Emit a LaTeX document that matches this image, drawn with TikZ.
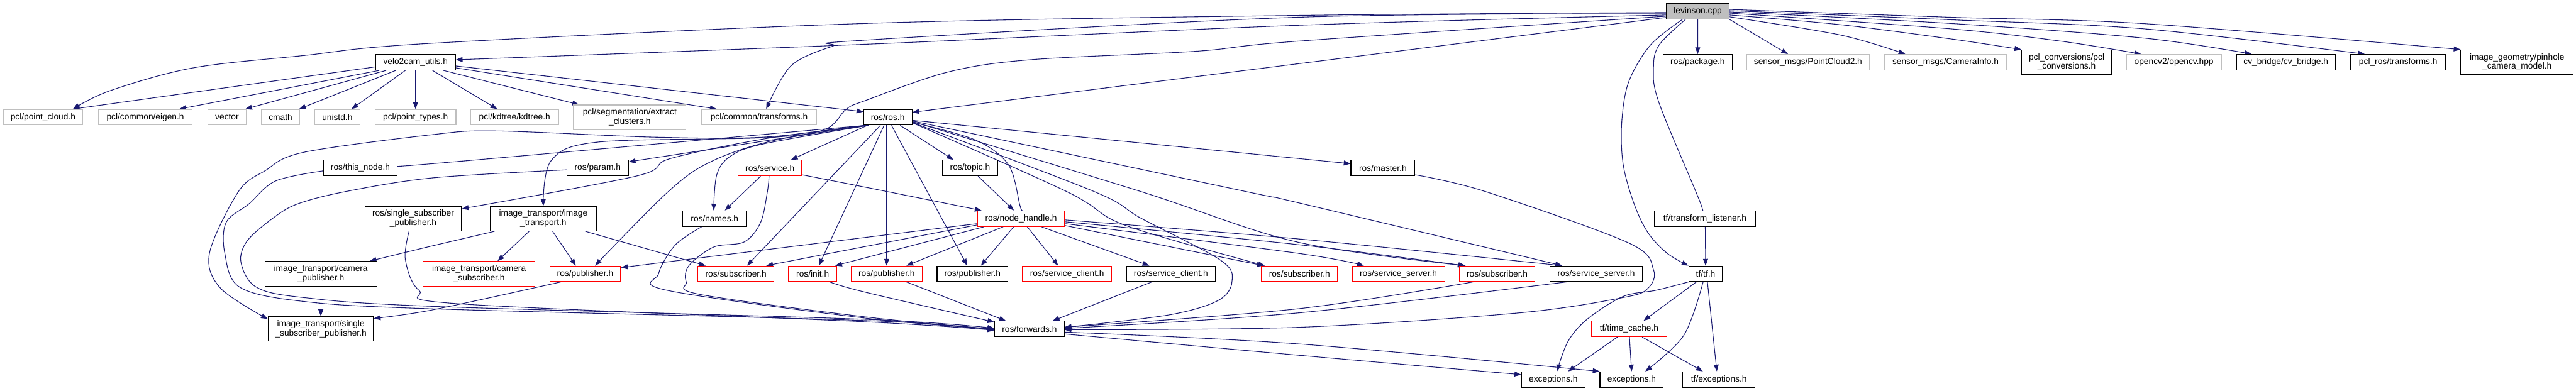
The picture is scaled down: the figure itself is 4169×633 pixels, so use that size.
\documentclass[tikz,border=0pt]{standalone}
\usepackage{fontspec}
\setmainfont{Liberation Sans}
\usetikzlibrary{arrows.meta}
\pgfdeclarelayer{edgelayer}
\pgfsetlayers{edgelayer,main}
\definecolor{edgeblue}{HTML}{191970}
\definecolor{boxgray}{HTML}{BFBFBF}
\definecolor{levgray}{HTML}{BFBFBF}
\definecolor{boxred}{HTML}{FF0000}
\newcommand\nfont{\fontsize{14}{15}\selectfont}
\newcommand\conn[1]{\draw[e] plot[smooth,tension=0.55] coordinates {#1};}
\tikzset{
  base/.style={rectangle, line width=1.1pt, inner sep=0pt, font=\nfont, align=center, minimum height=25.3pt, fill=white},
  nb/.style={base, draw=black},
  ng/.style={base, draw=boxgray},
  nr/.style={base, draw=boxred},
  tall/.style={minimum height=40pt},
  e/.style={draw=edgeblue, line width=1.1pt, -{Triangle[length=11pt,width=8pt]}, fill=none}
}
\begin{document}
\begin{tikzpicture}[x=1pt,y=-1pt]
\useasboundingbox (0,0) rectangle (4169,633);
% row 0
\node[nb,fill=levgray,minimum width=101.8pt] (lev) at (2747.7,18.3) {levinson.cpp};
% row 1
\node[nb,minimum width=129pt] (velo) at (672.5,100.8) {velo2cam\_utils.h};
\node[nb,minimum width=112pt] (pkg) at (2747.5,100.8) {ros/package.h};
\node[ng,minimum width=198.6pt] (pc2) at (2926.1,100.8) {sensor\_msgs/PointCloud2.h};
\node[ng,minimum width=197.3pt] (caminfo) at (3148.6,100.8) {sensor\_msgs/CameraInfo.h};
\node[nb,tall,minimum width=145.5pt] (pclconv) at (3344.6,100.7) {pcl\_conversions/pcl\\\_conversions.h};
\node[ng,minimum width=153.5pt] (opencv) at (3518.2,100.8) {opencv2/opencv.hpp};
\node[nb,minimum width=160pt] (cvb) at (3699.5,100.8) {cv\_bridge/cv\_bridge.h};
\node[nb,minimum width=153.5pt] (pclros) at (3881.2,100.8) {pcl\_ros/transforms.h};
\node[nb,tall,minimum width=182pt] (imgeo) at (4073.6,100.7) {image\_geometry/pinhole\\\_camera\_model.h};
% row 2
\node[ng,minimum width=128.5pt] (pcloud) at (69.6,189.8) {pcl/point\_cloud.h};
\node[ng,minimum width=151.7pt] (eigen) at (235.2,189.8) {pcl/common/eigen.h};
\node[ng,minimum width=62.5pt] (vector) at (367.4,189.8) {vector};
\node[ng,minimum width=62.5pt] (cmath) at (454,189.8) {cmath};
\node[ng,minimum width=73.2pt] (unistd) at (545.9,189.8) {unistd.h};
\node[ng,minimum width=130.8pt] (ptypes) at (672.5,189.8) {pcl/point\_types.h};
\node[ng,minimum width=142.4pt] (kdtree) at (832.8,189.8) {pcl/kdtree/kdtree.h};
\node[ng,tall,minimum width=182pt] (extract) at (1019.2,190) {pcl/segmentation/extract\\\_clusters.h};
\node[ng,minimum width=186.6pt] (transforms) at (1228.5,189.8) {pcl/common/transforms.h};
\node[nb,minimum width=78.2pt] (ros) at (1436.8,189.8) {ros/ros.h};
% row 3
\node[nb,minimum width=120pt] (thisnode) at (583.2,272) {ros/this\_node.h};
\node[nb,minimum width=99.5pt] (param) at (967.2,272) {ros/param.h};
\node[nr,minimum width=102.7pt] (service) at (1246,272) {ros/service.h};
\node[nb,minimum width=89.7pt] (topic) at (1569.9,272) {ros/topic.h};
\node[nb,minimum width=103.5pt] (master) at (2238,272) {ros/master.h};
% row 4
\node[nb,tall,minimum width=156.3pt] (rssp) at (668.7,354) {ros/single\_subscriber\\\_publisher.h};
\node[nb,tall,minimum width=172pt] (itimg) at (879.3,354) {image\_transport/image\\\_transport.h};
\node[nb,minimum width=103pt] (names) at (1156.5,354) {ros/names.h};
\node[nr,minimum width=139.7pt] (nh) at (1652.5,354) {ros/node\_handle.h};
\node[nb,minimum width=163.4pt] (tflisten) at (2759.3,354) {tf/transform\_listener.h};
% row 5
\node[nb,tall,minimum width=181.2pt] (itcampub) at (519.2,443.3) {image\_transport/camera\\\_publisher.h};
\node[nr,tall,minimum width=181.7pt] (itcamsub) at (775.2,443.3) {image\_transport/camera\\\_subscriber.h};
\node[nr,minimum width=114.7pt] (pubr1) at (947,443.3) {ros/publisher.h};
\node[nr,minimum width=123.2pt] (subr1) at (1191,443.3) {ros/subscriber.h};
\node[nr,minimum width=77.7pt] (init) at (1315.2,443.3) {ros/init.h};
\node[nr,minimum width=114.8pt] (pubr2) at (1435,443.3) {ros/publisher.h};
\node[nb,minimum width=114.7pt] (pubb) at (1573.9,443.3) {ros/publisher.h};
\node[nr,minimum width=144.2pt] (scr) at (1727,443.3) {ros/service\_client.h};
\node[nb,minimum width=143.7pt] (scb) at (1895,443.3) {ros/service\_client.h};
\node[nr,minimum width=123.2pt] (subr2) at (2103.1,443.3) {ros/subscriber.h};
\node[nr,minimum width=149.5pt] (ssr) at (2263.2,443.3) {ros/service\_server.h};
\node[nr,minimum width=122.8pt] (subr3) at (2423,443.3) {ros/subscriber.h};
\node[nb,minimum width=149.5pt] (ssb) at (2583.3,443.3) {ros/service\_server.h};
\node[nb,minimum width=54.5pt] (tf) at (2760.3,443.3) {tf/tf.h};
% row 6
\node[nb,tall,minimum width=170.5pt] (itssp) at (519.2,532.5) {image\_transport/single\\\_subscriber\_publisher.h};
\node[nb,minimum width=112.5pt] (fwd) at (1666,532.7) {ros/forwards.h};
\node[nr,minimum width=121.4pt] (timecache) at (2636.6,532.5) {tf/time\_cache.h};
% row 7
\node[nb,minimum width=102.6pt] (exc1) at (2513.8,614.5) {exceptions.h};
\node[nb,minimum width=102.6pt] (exc2) at (2640.6,614.5) {exceptions.h};
\node[nb,minimum width=116.6pt] (tfexc) at (2781.9,614.5) {tf/exceptions.h};

\begin{pgfonlayer}{edgelayer}
% levinson.cpp
\conn{([yshift=-6pt]lev.west) (2100,41) (1400,71.7) ([yshift=4pt]velo.east)}
\conn{([yshift=-2pt]lev.west) (2100,25) (1400,38) (700,70) (491,90) (312,110) (178.6,146.7) ([xshift=48.4pt]pcloud.north)}
\conn{([yshift=-4pt]lev.west) (2100,28) (1400,65) (1347,75) (1280,106.7) ([xshift=11.5pt]transforms.north)}
\conn{([yshift=-8pt]lev.west) (2100,66.7) (1935.7,83) (1667.9,96.7) (1533.9,116.7) (1400,163) (1369.6,176.7) (1333.9,210) (1235.7,223) (967.8,230) (892,260) (itimg.north)}
\conn{([yshift=-10pt]lev.west) ([yshift=8pt]ros.east)}
\conn{(lev.south) (pkg.north)}
\conn{(lev.south east) ([xshift=-32.4pt]pc2.north)}
\conn{([yshift=-9pt]lev.east) (2978.6,56.7) ([xshift=-65pt]caminfo.north)}
\conn{([yshift=-6pt]lev.east) (2978.6,40) (3157,63) (pclconv.north west)}
\conn{([yshift=-3pt]lev.east) (3157,46.7) (3335.7,66.7) ([xshift=-53pt]opencv.north)}
\conn{([yshift=-1pt]lev.east) (3157,38) (3470,61.7) ([xshift=-55.5pt]cvb.north)}
\conn{([yshift=1pt]lev.east) (3157,32) (3470,46.7) ([xshift=-54pt]pclros.north)}
\conn{([yshift=3pt]lev.east) (3157,28) (3470,38.3) (imgeo.north west)}
\conn{([xshift=-20pt]lev.south) (2685,73) (2676,110) (2685,166.7) (2751.7,328) ([xshift=-8pt]tflisten.north)}
\conn{([xshift=-25pt]lev.south) (2671,73) (2635.7,133) (2624.5,200) (2627,266.7) (2644.6,330) (2667,376.7) (2698,410) (tf.north west)}
% velo2cam_utils.h
\conn{([yshift=-7.5pt]velo.west) ([xshift=48.4pt]pcloud.north)}
\conn{([xshift=-58.7pt]velo.south) ([xshift=54.8pt]eigen.north)}
\conn{([xshift=-47.5pt]velo.south) ([xshift=29.6pt]vector.north)}
\conn{([xshift=-32pt]velo.south) ([xshift=30pt]cmath.north)}
\conn{([xshift=-16.5pt]velo.south) ([xshift=23pt]unistd.north)}
\conn{(velo.south) (ptypes.north)}
\conn{([xshift=27.5pt]velo.south) ([xshift=-28pt]kdtree.north)}
\conn{([xshift=45pt]velo.south) ([xshift=-82pt]extract.north)}
\conn{([yshift=-9pt]velo.east) ([xshift=-68.5pt]transforms.north)}
\conn{([yshift=-6pt]velo.east) ([yshift=9pt]ros.west)}
% ros/ros.h
\conn{([xshift=-36pt]ros.south) (700,265) ([yshift=5pt]thisnode.east)}
\conn{([xshift=-35pt]ros.south) ([yshift=10pt]param.east)}
\conn{([xshift=-33pt]ros.south) ([xshift=34pt]service.north)}
\conn{([xshift=-31pt]ros.south) (1235.7,233) (1182,253) (1160,283) ([xshift=-1.5pt]names.north)}
\conn{([xshift=-34pt]ros.south) (1236,225) (1084,257) (1030,285) ([yshift=16pt]rssp.east)}
\conn{([xshift=-32pt]ros.south) (1250,228) (1150,262) (1081.7,310) ([xshift=16pt]pubr1.north)}
\conn{([xshift=-38pt]ros.south) (1236,222) (1057,222) (803,212) (700,218) (491,246.7) (428.6,276.7) (386,310) (339,410) (357,466.7) ([yshift=16pt]itssp.west)}
\conn{([xshift=-12pt]ros.south) ([xshift=18pt]subr1.north)}
\conn{([xshift=-6pt]ros.south) ([xshift=10pt]init.north)}
\conn{([xshift=-1.8pt]ros.south) (pubr2.north)}
\conn{([xshift=6pt]ros.south) ([xshift=-8.5pt]pubb.north)}
\conn{([xshift=20pt]ros.south) ([xshift=-27pt]topic.north)}
\conn{([yshift=-8pt]ros.east) (1578.6,226.7) (1632,266.7) (1650,330) ([xshift=-0.5pt]nh.north)}
\conn{([yshift=-5pt]ros.east) ([yshift=7pt]master.west)}
\conn{([yshift=-6pt]ros.east) (2016,310) (2100,328) ([xshift=-55pt]ssb.north)}
\conn{([yshift=-7pt]ros.east) (1846,310) (2100,392) ([xshift=-51pt]subr3.north)}
\conn{([yshift=-9pt]ros.east) (1726,310) (1801.8,356.7) (1891,386.7) ([xshift=-56pt]subr2.north)}
\conn{([yshift=-8.5pt]ros.east) (1770.5,310) (1846,353) (1976,421.7) (1993.7,456.7) (1971,486.7) (1891,510) ([yshift=2.7pt]fwd.east)}
% ros/node_handle.h
\conn{([yshift=-8pt]nh.west) ([yshift=10pt]pubr1.east)}
\conn{([yshift=-10pt]nh.west) ([xshift=49pt]subr1.north)}
\conn{([xshift=-60pt]nh.south) ([xshift=36.5pt]init.north)}
\conn{([xshift=-29pt]nh.south) ([xshift=32pt]pubr2.north)}
\conn{([xshift=-12pt]nh.south) ([xshift=13.6pt]pubb.north)}
\conn{([xshift=10pt]nh.south) ([xshift=-14.5pt]scr.north)}
\conn{([xshift=33pt]nh.south) ([xshift=-35pt]scb.north)}
\conn{([yshift=-11pt]nh.east) ([xshift=-58pt]subr2.north)}
\conn{([yshift=-8pt]nh.east) (2100,410) ([xshift=-56pt]ssr.north)}
\conn{([yshift=-5pt]nh.east) (2100,396) ([xshift=-53pt]subr3.north)}
\conn{([yshift=-2pt]nh.east) (2100,386.7) ([xshift=-55pt]ssb.north)}
% topic, service, names
\conn{([xshift=13pt]topic.south) ([xshift=-11.5pt]nh.north)}
\conn{([yshift=-11pt]service.east) (1400,303) ([xshift=-64pt]nh.north)}
\conn{([xshift=-15pt]service.south) ([xshift=16.5pt]names.north)}
\conn{([xshift=-1.4pt]service.south) (1242,310) (1231,360) (1204.5,391.7) (1155,400) (1115,430) (1110.7,456.7) (1133,476.7) (1400,513) ([yshift=-1pt]fwd.west)}
\conn{([xshift=-21pt]names.south) (1092.8,396.7) (1066,443) (1079.5,470) (1400,515) (fwd.west)}
% this_node, param, single_subscriber_publisher
\conn{([yshift=-4.7pt]thisnode.west) (446,293) (403,330) (366,360) (363.8,410) (388,465) (491,488) (700,500) (1400,519) ([yshift=-1pt]fwd.west)}
\conn{([yshift=-3pt]param.west) (700,288) (560,310) (482,330) (442,353) (400,390) (390,425) (415,465) (491,481.7) (700,496) (1400,517) ([yshift=1pt]fwd.west)}
\conn{([xshift=-6.7pt]rssp.south) (656,420) (678,470) (745,492) (1400,521) ([yshift=-2pt]fwd.west)}
% image_transport
\conn{([xshift=-39.4pt]pubr1.south) (700,501.7) ([yshift=17pt]itssp.east)}
\conn{(itcampub.south) (itssp.north)}
\conn{([xshift=-79pt]itimg.south) (700,398) ([xshift=79pt]itcampub.north)}
\conn{([xshift=-23pt]itimg.south) ([xshift=30pt]itcamsub.north)}
\conn{([xshift=15pt]itimg.south) ([xshift=-15pt]pubr1.north)}
\conn{([xshift=68pt]itimg.south) ([xshift=-49pt]subr1.north)}
% into forwards
\conn{([xshift=27.6pt]init.south) (1400,473) ([yshift=-2pt]fwd.north west)}
\conn{([xshift=32pt]pubr2.south) ([xshift=-38pt]fwd.north)}
\conn{([xshift=-31pt]scb.south) ([xshift=37.6pt]fwd.north)}
\conn{([xshift=-39pt]subr3.south) (2100,500) ([yshift=3pt]fwd.east)}
\conn{([xshift=-48pt]ssb.south) (2100,506.7) ([yshift=1pt]fwd.east)}
\conn{([yshift=-11pt]master.east) (2403.6,310) (2635.7,393.3) (2676,436.7) (2667,466.7) (2627,481.7) (2457,506.7) (2100,530) ([yshift=-1pt]fwd.east)}
% forwards out
\conn{([yshift=-8pt]fwd.east) (2100,575) ([yshift=8pt]exc1.west)}
\conn{([yshift=-5pt]fwd.east) (2100,556.7) (exc2.north west)}
% tf
\conn{([xshift=0.5pt]tflisten.south) (tf.north)}
\conn{([xshift=-15pt]tf.south) ([xshift=23.4pt]timecache.north)}
\conn{(tf.south west) (2680,470) (2626.7,480) (2568.8,516.7) (2537.5,553) ([xshift=6pt]exc1.north)}
\conn{([xshift=-4pt]tf.south) (2725,543) ([xshift=22pt]exc2.north)}
\conn{([xshift=3pt]tf.south) ([xshift=-3.4pt]tfexc.north)}
\conn{([xshift=-19pt]timecache.south) ([xshift=24pt]exc1.north)}
\conn{([xshift=0.5pt]timecache.south) (exc2.north)}
\conn{([xshift=21pt]timecache.south) ([xshift=-26pt]tfexc.north)}
\end{pgfonlayer}
\end{tikzpicture}
\end{document}
